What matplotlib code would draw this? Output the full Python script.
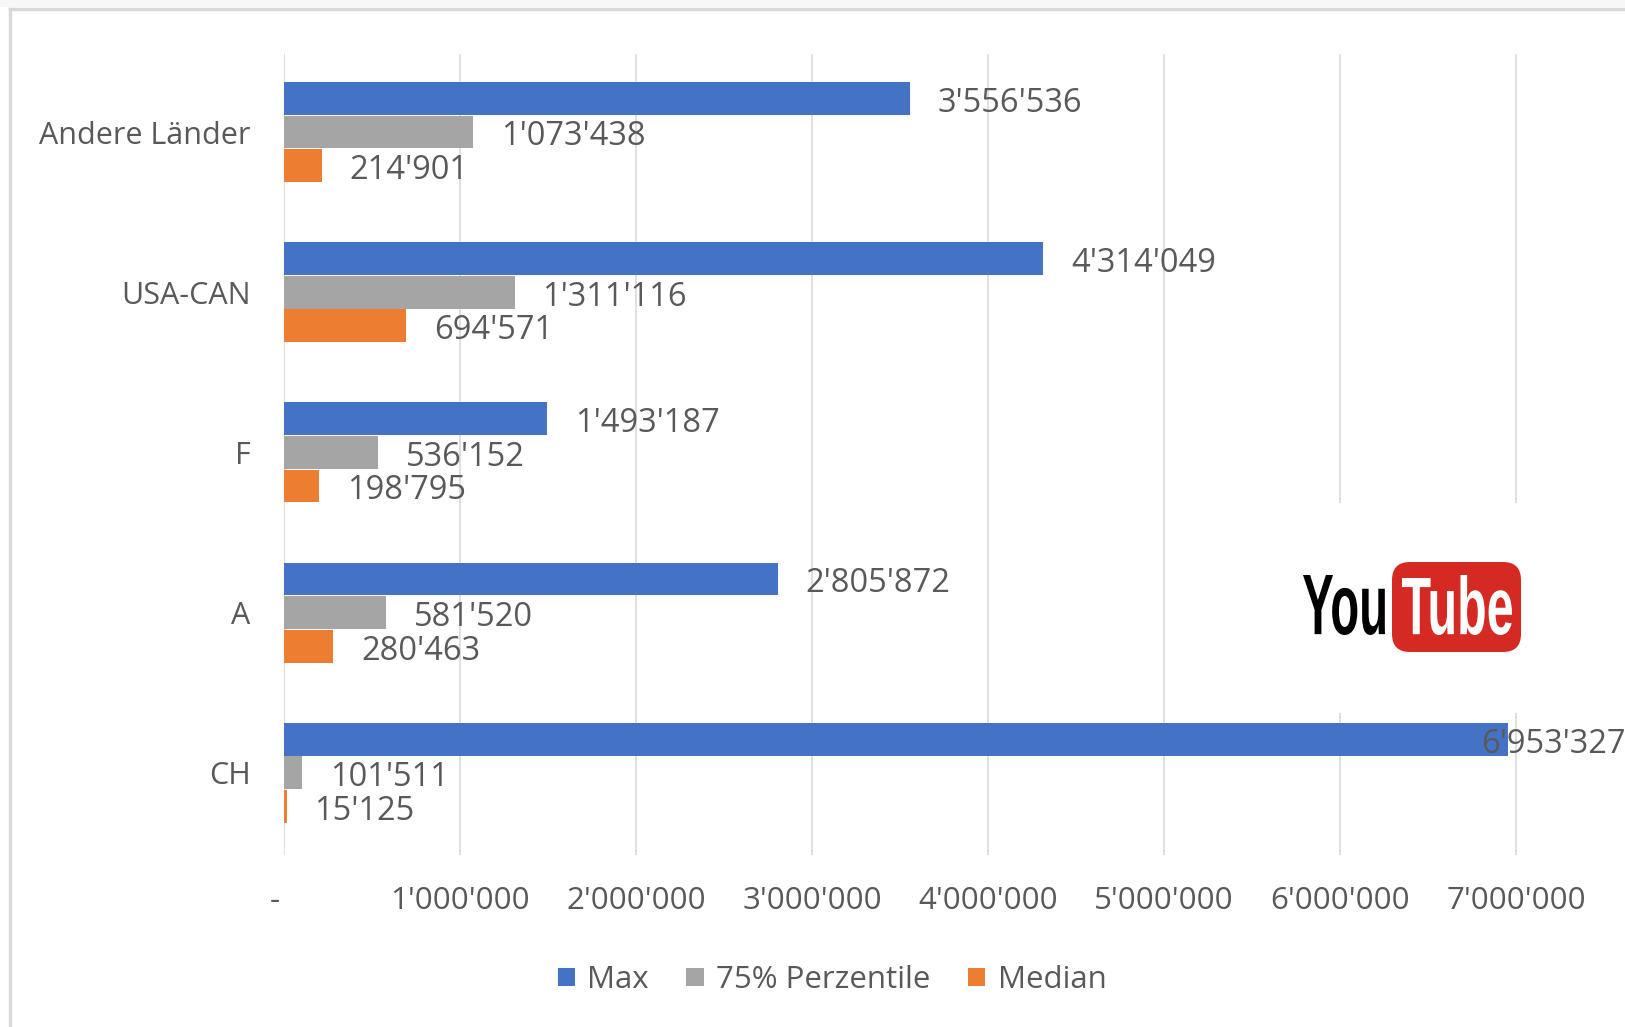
import numpy as np
import matplotlib
matplotlib.use('Agg')
import matplotlib.pyplot as plt
from matplotlib.patches import Patch, FancyBboxPatch, PathPatch, Rectangle
from matplotlib.lines import Line2D
from matplotlib.textpath import TextPath
from matplotlib.font_manager import FontProperties
from matplotlib.transforms import Affine2D, ScaledTranslation

countries = ['CH', 'A', 'F', 'USA-CAN', 'Andere Länder']
max_vals = [6953327, 2805872, 1493187, 4314049, 3556536]
p75_vals = [101511, 581520, 536152, 1311116, 1073438]
median_vals = [15125, 280463, 198795, 694571, 214901]
series_names = ['Max', '75% Perzentile', 'Median']
xticks = [0, 1000000, 2000000, 3000000, 4000000, 5000000, 6000000, 7000000]

colors = ['#4472C4', '#A5A5A5', '#ED7D31']
text_color = '#595959'

plt.rcParams['font.family'] = ['Open Sans', 'DejaVu Sans']

W, H = 1625, 1027


def fmt(v):
    # swiss style thousands separator
    return '-' if v == 0 else '{:,}'.format(int(v)).replace(',', "'")


fig = plt.figure(figsize=(W / 100, H / 100), dpi=100)
ax = fig.add_axes([284 / W, (H - 855) / H, 8 * 176 / W, (855 - 54) / H])

y = np.arange(len(countries))
bh = 0.205
offsets = [0.21, 0.0, -0.21]
for vals, off, c in zip([max_vals, p75_vals, median_vals], offsets, colors):
    ax.barh(y + off, vals, height=bh, color=c, zorder=3)
    for yi, v in zip(y, vals):
        # the label that would run off the chart gets pulled back onto the bar
        dx = 20 if v < 6e6 else -19
        ax.annotate(fmt(v), (v, yi + off), xytext=(dx, -3.5), textcoords='offset points',
                    ha='left', va='center', fontsize=23.5, color=text_color, zorder=4)

ax.set_xlim(0, 8e6)
ax.set_ylim(-0.513, 4.487)
ax.set_xticks(xticks)
ax.set_xticklabels([fmt(v) for v in xticks])
ax.set_yticks(y)
ax.set_yticklabels(countries)
ax.grid(axis='x', color='#D9D9D9', linewidth=1.2, zorder=0)
ax.tick_params(axis='y', length=0, pad=24, labelsize=22, labelcolor=text_color)
ax.tick_params(axis='x', length=0, pad=22, labelsize=22.5, labelcolor=text_color)
for s in ax.spines.values():
    s.set_visible(False)
zero_lbl = ax.get_xticklabels()[0]
zero_lbl.set_transform(zero_lbl.get_transform() + ScaledTranslation(-0.09, 0, fig.dpi_scale_trans))

handles = [Patch(facecolor=c, edgecolor='none') for c in colors]
fig.legend(handles, series_names, loc='center', bbox_to_anchor=(832 / W, (H - 980) / H),
           ncol=3, frameon=False, fontsize=22.5, labelcolor=text_color,
           handlelength=0.55, handleheight=0.55, handletextpad=0.4, columnspacing=1.2)

# youtube logo on a white patch that hides the gridlines behind it
lx0, lx1, ly0, ly1 = 1290, 1530, H - 713, H - 503
lax = fig.add_axes([lx0 / W, ly0 / H, (lx1 - lx0) / W, (ly1 - ly0) / H])
lax.set_xlim(lx0, lx1)
lax.set_ylim(ly0, ly1)
lax.axis('off')
lax.add_patch(Rectangle((lx0, ly0), lx1 - lx0, ly1 - ly0, color='white', zorder=0))
lax.add_patch(FancyBboxPatch((1392, H - 652), 129, 90, boxstyle='round,pad=0,rounding_size=18',
                             facecolor='#D52A24', edgecolor='none', zorder=1))


def fit_text(a, s, x0, x1, y0, y1, color):
    fp = FontProperties(family='Liberation Sans', weight='bold')
    tp = TextPath((0, 0), s, size=100, prop=fp)
    bb = tp.get_extents()
    tr = Affine2D().translate(-bb.x0, -bb.y0).scale((x1 - x0) / bb.width, (y1 - y0) / bb.height).translate(x0, y0)
    a.add_patch(PathPatch(tr.transform_path(tp), facecolor=color, edgecolor='none', zorder=2))


fit_text(lax, 'You', 1303, 1385, H - 635, H - 575, 'black')
fit_text(lax, 'Tube', 1402, 1512, H - 635, H - 575, 'white')

# screenshot frame
fig.add_artist(Rectangle((0, (H - 7) / H), 1, 7 / H, transform=fig.transFigure,
                         facecolor='#F7F7F7', edgecolor='none'))
fig.add_artist(Line2D([10 / W, 10 / W], [0, (H - 9) / H], transform=fig.transFigure,
                      color='#D9D9D9', linewidth=2.5))
fig.add_artist(Line2D([10 / W, 1], [(H - 9) / H, (H - 9) / H], transform=fig.transFigure,
                      color='#D9D9D9', linewidth=2.5))

fig.savefig('out.png', dpi=100)
